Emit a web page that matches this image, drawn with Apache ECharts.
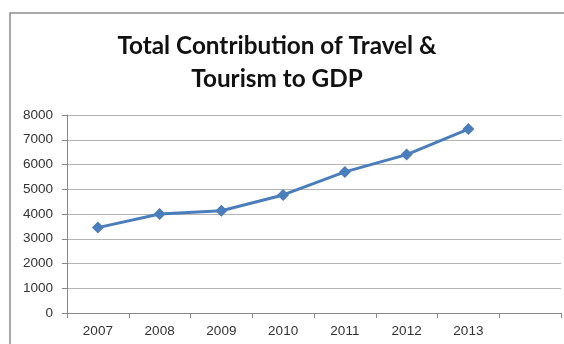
<!DOCTYPE html>
<html><head><meta charset="utf-8">
<script src="https://cdn.jsdelivr.net/npm/echarts@6/dist/echarts.min.js"></script>
<style>html,body{margin:0;padding:0;background:#fff}#c{width:564px;height:344px}</style>
</head><body><div id="c"></div>
<script>
const categories = ['2007','2008','2009','2010','2011','2012','2013',''];
const values = [3450, 4000, 4130, 4770, 5700, 6400, 7430];
const yTicks = [0, 1000, 2000, 3000, 4000, 5000, 6000, 7000, 8000];
const titleLines = ['Total Contribution of Travel &', 'Tourism to GDP'];

const chart = echarts.init(document.getElementById('c'), null, {renderer:'canvas'});
chart.setOption({
  backgroundColor:'#fff',
  animation:false,
  title:{
    text: titleLines.join('\n'),
    left: 272, top: 25, textAlign:'center',
    textStyle:{fontFamily:'Lato', fontWeight:'bold', fontSize:24.3, lineHeight:33, color:'#111'}
  },
  graphic:[{type:'rect', shape:{x:10, y:13, width:700, height:500}, style:{fill:'none', stroke:'#8c8c8c', lineWidth:1.5}, silent:true}],
  grid:{left:67, right:3, top:115, bottom:31},
  xAxis:{
    type:'category', data:categories, boundaryGap:true,
    axisLine:{lineStyle:{color:'#888', width:1}},
    axisTick:{show:true, length:5, lineStyle:{color:'#888'}},
    axisLabel:{interval:0, color:'#333', fontFamily:'Liberation Sans', fontSize:13.5, margin:11}
  },
  yAxis:{
    type:'value', min:yTicks[0], max:yTicks[yTicks.length-1], interval:1000,
    axisLine:{show:true, lineStyle:{color:'#888', width:1}},
    axisTick:{show:true, length:5, lineStyle:{color:'#888'}},
    splitLine:{lineStyle:{color:'#b4b4b4', width:1}},
    axisLabel:{color:'#333', fontFamily:'Liberation Sans', fontSize:13.5, margin:14, formatter: v => String(v)}
  },
  series:[{
    type:'line', data:values, symbol:'diamond', symbolSize:12,
    lineStyle:{color:'#4A7EBB', width:3},
    itemStyle:{color:'#4A7EBB'}
  }]
});
</script></body></html>
